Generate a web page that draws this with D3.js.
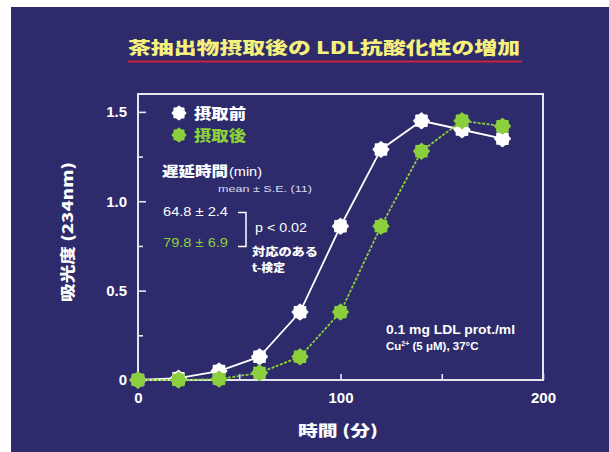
<!DOCTYPE html>
<html>
<head>
<meta charset="utf-8">
<script src="https://cdn.jsdelivr.net/npm/d3@7"></script>
<style>
  html, body { margin: 0; padding: 0; background: #ffffff; }
  svg { display: block; }
</style>
</head>
<body>
<svg id="chart" width="609" height="452"></svg>
<script>
// Sampling times (min)
const times = [0, 20, 40, 60, 80, 100, 120, 140, 160, 180];
// Absorbance at 234 nm before intake
const beforeIntake = [0, 0.01, 0.05, 0.13, 0.38, 0.86, 1.29, 1.45, 1.40, 1.35];
// Absorbance at 234 nm after intake
const afterIntake = [0, 0, 0.005, 0.04, 0.13, 0.38, 0.86, 1.28, 1.45, 1.42];

const seriesNames = ["摂取前", "摂取後"];
const seriesColors = ["#ffffff", "#8ccf3c"];

const xTicks = [0, 50, 100, 150, 200];
const xTickLabels = ["0", "", "100", "", "200"];
const yTicks = [0, 0.25, 0.5, 0.75, 1.0, 1.25, 1.5];
const yTickLabels = ["0", "", "0.5", "", "1.0", "", "1.5"];

const lagLabels = ["64.8 ± 2.4", "79.8 ± 6.9"];

const svg = d3.select("#chart");
const W = 609, H = 452;
const navy = "#2d2b6b";
const frameCol = "#e6e6ef";
const latin = "'Liberation Sans', Arial, sans-serif";
const cjk = "'Noto Sans CJK JP', 'Noto Sans CJK SC', sans-serif";

// helper: text stretched to a set width
function label(px, py, str, opts) {
  const t = svg.append("text")
    .attr("x", px).attr("y", py)
    .attr("font-family", opts.font || latin)
    .attr("font-weight", opts.weight || "normal")
    .attr("font-size", opts.size)
    .attr("fill", opts.fill || "#ffffff")
    .text(str);
  if (opts.anchor) t.attr("text-anchor", opts.anchor);
  if (opts.len) t.attr("textLength", opts.len).attr("lengthAdjust", "spacingAndGlyphs");
  return t;
}

// backdrop
svg.append("rect").attr("x", 11).attr("y", 7).attr("width", W - 11).attr("height", H - 7).attr("fill", navy);

const x = d3.scaleLinear().domain([0, 200]).range([138, 543]);
const y = d3.scaleLinear().domain([0, 1.6]).range([380, 94]);

// title
label(128, 54, "茶抽出物摂取後の LDL抗酸化性の増加",
  { font: cjk, weight: 900, size: 17.5, fill: "#f6f07c", len: 392 });
svg.append("line")
  .attr("x1", 128).attr("x2", 522).attr("y1", 61.5).attr("y2", 61.5)
  .attr("stroke", "#c8243c").attr("stroke-width", 2);

// plot frame
svg.append("rect")
  .attr("x", x(0)).attr("y", y(1.6))
  .attr("width", x(200) - x(0)).attr("height", y(0) - y(1.6))
  .attr("fill", "none").attr("stroke", frameCol).attr("stroke-width", 2);

// x axis (inward ticks)
const xAxis = svg.append("g")
  .attr("transform", `translate(0,${y(0)})`)
  .call(d3.axisBottom(x).tickValues(xTicks)
    .tickSize(-6).tickPadding(12)
    .tickFormat((d, i) => xTickLabels[i]));
xAxis.select(".domain").remove();
xAxis.selectAll("line").attr("stroke", frameCol).attr("stroke-width", 1.6);
xAxis.selectAll("text")
  .attr("fill", "#ffffff").attr("font-family", latin)
  .attr("font-weight", "bold").attr("font-size", 15);

// y axis (inward ticks, longer at labelled values)
const yAxis = svg.append("g")
  .attr("transform", `translate(${x(0)},0)`)
  .call(d3.axisLeft(y).tickValues(yTicks)
    .tickSize(0).tickPadding(11)
    .tickFormat((d, i) => yTickLabels[i]));
yAxis.select(".domain").remove();
yAxis.selectAll(".tick").append("line")
  .attr("x1", 0)
  .attr("x2", (d, i) => yTickLabels[i] ? 8 : 5)
  .attr("stroke", frameCol).attr("stroke-width", 1.6);
yAxis.selectAll("text")
  .attr("fill", "#ffffff").attr("font-family", latin)
  .attr("font-weight", "bold").attr("font-size", 15);

// axis titles
svg.append("text")
  .attr("transform", `translate(73,232) rotate(-90)`)
  .attr("text-anchor", "middle")
  .attr("font-family", cjk).attr("font-weight", 900).attr("font-size", 14.5)
  .attr("fill", "#ffffff")
  .attr("textLength", 140).attr("lengthAdjust", "spacingAndGlyphs")
  .text("吸光度 (234nm)");
label(298, 436, "時間 (分)", { font: cjk, weight: 900, size: 15, len: 80 });

// cog-shaped marker path
function cogPath(r) {
  const pts = d3.range(16).map(i => [i * Math.PI / 8, i % 2 ? r * 0.82 : r]);
  return d3.lineRadial().curve(d3.curveCardinalClosed.tension(0.2))(pts);
}

const series = [beforeIntake, afterIntake];
const line = d3.line().x((d, i) => x(times[i])).y(d => y(d));

series.forEach((vals, s) => {
  const g = svg.append("g");
  g.append("path")
    .attr("d", line(vals))
    .attr("fill", "none")
    .attr("stroke", seriesColors[s])
    .attr("stroke-width", 1.8)
    .attr("stroke-dasharray", s === 0 ? null : "3,1.5");
  g.selectAll("path.pt").data(vals).join("path")
    .attr("class", "pt")
    .attr("transform", (d, i) => `translate(${x(times[i])},${y(d)})`)
    .attr("d", cogPath(8.5))
    .attr("fill", seriesColors[s]);
});

// legend
seriesNames.forEach((name, s) => {
  const ly = 113 + s * 22;
  svg.append("path")
    .attr("transform", `translate(179,${ly})`)
    .attr("d", cogPath(7.5))
    .attr("fill", seriesColors[s]);
  label(194, ly + 6, name, { font: cjk, weight: 900, size: 15, fill: seriesColors[s], len: 52 });
});

// lag-time annotation
label(162, 176, "遅延時間", { font: cjk, weight: 900, size: 14, len: 66 });
label(229, 176, "(min)", { size: 12.5, len: 33 });
label(218, 192, "mean ± S.E. (11)", { size: 9.5, fill: "#dcdcf2", len: 94 });
lagLabels.forEach((t, s) => {
  label(163, 216 + s * 31, t, { size: 12, fill: seriesColors[s], len: 65 });
});
svg.append("path")
  .attr("d", "M238,212.5 H246 V246.5 H238")
  .attr("fill", "none").attr("stroke", "#ffffff").attr("stroke-width", 1.5);
label(255, 232, "p < 0.02", { size: 12, len: 52 });
label(252, 256, "対応のある", { font: cjk, weight: 900, size: 11, len: 66 });
label(252, 272, "t-検定", { font: cjk, weight: 900, size: 11, len: 33 });

// assay conditions
label(386, 334, "0.1 mg LDL prot./ml", { size: 12, weight: "bold", len: 129 });
const cu = svg.append("text")
  .attr("x", 386).attr("y", 350)
  .attr("font-family", latin).attr("font-weight", "bold").attr("font-size", 11.5)
  .attr("fill", "#ffffff");
cu.append("tspan").text("Cu");
cu.append("tspan").attr("font-size", 7).attr("dy", -4).text("2+");
cu.append("tspan").attr("dy", 4).text(" (5 μM), 37°C");
</script>
</body>
</html>
